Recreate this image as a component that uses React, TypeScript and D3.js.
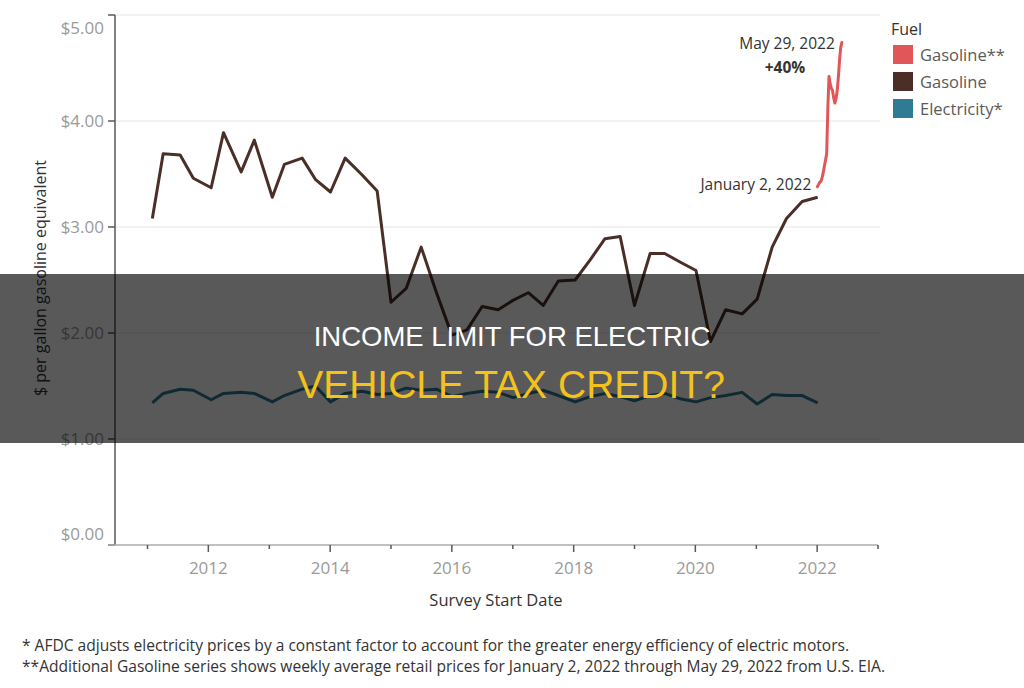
import { scaleLinear, scaleTime, line, timeParse, timeYear } from 'd3'

const parseDay = timeParse('%Y-%m-%d')

// quarterly survey dates (AFDC Clean Cities price report)
const surveyDates = [
  '2011-01-30', '2011-04-05', '2011-07-16', '2011-10-03',
  '2012-01-18', '2012-04-01', '2012-07-16', '2012-10-03',
  '2013-01-19', '2013-04-01', '2013-07-17', '2013-10-04',
  '2014-01-03', '2014-04-01', '2014-07-12', '2014-10-10',
  '2015-01-01', '2015-04-02', '2015-07-01', '2015-10-01',
  '2016-01-01', '2016-04-01', '2016-07-01', '2016-10-05',
  '2017-01-04', '2017-04-04', '2017-07-02', '2017-10-01',
  '2018-01-10', '2018-04-10', '2018-07-08', '2018-10-07',
  '2019-01-01', '2019-04-05', '2019-07-01', '2019-10-01',
  '2020-01-05', '2020-04-01', '2020-07-01', '2020-10-08',
  '2021-01-06', '2021-04-06', '2021-07-01', '2021-10-03',
  '2022-01-04',
]

const gasolinePrices = [
  3.08, 3.69, 3.68, 3.46,
  3.37, 3.89, 3.52, 3.82,
  3.28, 3.59, 3.65, 3.45,
  3.33, 3.65, 3.49, 3.34,
  2.29, 2.42, 2.81, 2.38,
  1.98, 2.03, 2.25, 2.22,
  2.31, 2.38, 2.26, 2.49,
  2.50, 2.69, 2.89, 2.91,
  2.26, 2.75, 2.75, 2.67,
  2.59, 1.92, 2.22, 2.18,
  2.32, 2.81, 3.08, 3.24,
  3.28,
]

const electricityPrices = [
  1.34, 1.43, 1.47, 1.46,
  1.37, 1.43, 1.44, 1.43,
  1.35, 1.41, 1.47, 1.50,
  1.35, 1.43, 1.45, 1.42,
  1.43, 1.48, 1.46, 1.47,
  1.40, 1.43, 1.45, 1.44,
  1.39, 1.43, 1.46, 1.41,
  1.35, 1.40, 1.43, 1.40,
  1.36, 1.41, 1.43, 1.38,
  1.35, 1.39, 1.41, 1.44,
  1.33, 1.42, 1.41, 1.41,
  1.34,
]

// weekly EIA retail prices, Jan 2 - May 29 2022
const weeklyDates = [
  '2022-01-02', '2022-01-09', '2022-01-16', '2022-01-23', '2022-01-30',
  '2022-02-06', '2022-02-13', '2022-02-20', '2022-02-27',
  '2022-03-06', '2022-03-13', '2022-03-20', '2022-03-27',
  '2022-04-03', '2022-04-10', '2022-04-17', '2022-04-24',
  '2022-05-01', '2022-05-08', '2022-05-15', '2022-05-22', '2022-05-29',
]

const weeklyGasoline = [
  3.38, 3.40, 3.42, 3.43, 3.46,
  3.51, 3.57, 3.63, 3.69,
  4.12, 4.42, 4.35, 4.31,
  4.29, 4.22, 4.17, 4.21,
  4.28, 4.41, 4.57, 4.69, 4.74,
]

const priceTicks = [0, 1, 2, 3, 4, 5]
const legendLabels = ['Gasoline**', 'Gasoline', 'Electricity*']
const legendColors = ['#e15759', '#4b2e27', '#2f7a94']

const footnotes = [
  '* AFDC adjusts electricity prices by a constant factor to account for the greater energy efficiency of electric motors.',
  '**Additional Gasoline series shows weekly average retail prices for January 2, 2022 through May 29, 2022 from U.S. EIA.',
]

const font = "'Open Sans', 'Noto Sans', sans-serif"

interface Point {
  date: Date
  value: number
}

const toSeries = (dates: string[], values: number[]): Point[] =>
  dates.map((d, i) => ({ date: parseDay(d) as Date, value: values[i] }))

const gasoline = toSeries(surveyDates, gasolinePrices)
const electricity = toSeries(surveyDates, electricityPrices)
const weekly = toSeries(weeklyDates, weeklyGasoline)

const App = () => {
  const width = 1024
  const height = 688

  const plot = { left: 115, right: 878, top: 15, bottom: 545 }

  const xScale = scaleTime()
    .domain([new Date(2010, 5, 20), new Date(2023, 0, 1)])
    .range([plot.left, plot.right])
  const yScale = scaleLinear().domain([0, 5]).range([plot.bottom, plot.top])

  const lineGenerator = line<Point>()
    .x(d => xScale(d.date))
    .y(d => yScale(d.value))

  const years = timeYear.range(new Date(2011, 0, 1), new Date(2023, 0, 2))

  const first = weekly[0]
  const last = weekly[weekly.length - 1]
  const change = Math.round((last.value / first.value - 1) * 100)

  return (
    <svg width={width} height={height} style={{ position: 'absolute', left: 0, top: 0, background: '#fff' }}>
      {/* gridlines */}
      {priceTicks.filter(t => t > 0).map(t => (
        <line key={t} x1={plot.left} x2={plot.right + 2} y1={yScale(t)} y2={yScale(t)} stroke="#eeeeee" strokeWidth={1.5}/>
      ))}

      {/* y axis */}
      <line x1={plot.left} x2={plot.left} y1={plot.top} y2={plot.bottom} stroke="#595959" strokeWidth={1.5}/>
      {priceTicks.map(t => {
        const ty = Math.min(Math.max(yScale(t), plot.top + 13.5), plot.bottom - 11)
        return (
          <g key={t}>
            <line x1={plot.left - 7} x2={plot.left} y1={yScale(t)} y2={yScale(t)} stroke="#595959" strokeWidth={1.5}/>
            <text x={104} y={ty} dy="0.35em" textAnchor="end" fontFamily={font} fontSize={17} fill="#9a9a9a">
              ${t.toFixed(2)}
            </text>
          </g>
        )
      })}
      <text transform={`translate(46, ${278}) rotate(-90)`} textAnchor="middle" fontFamily={font} fontSize={16} fill="#333">
        $ per gallon gasoline equivalent
      </text>

      {/* x axis */}
      <line x1={plot.left - 7} x2={plot.right} y1={plot.bottom} y2={plot.bottom} stroke="#ababab" strokeWidth={1.5}/>
      {years.map(d => {
        const major = d.getFullYear() % 2 === 0
        const tx = xScale(d)
        return (
          <g key={d.getFullYear()}>
            <line x1={tx} x2={tx} y1={plot.bottom} y2={plot.bottom + (major ? 7 : 4)} stroke="#595959" strokeWidth={1.5}/>
            {major && d.getFullYear() < 2023 && (
              <text x={tx} y={574} textAnchor="middle" fontFamily={font} fontSize={17} fill="#9a9a9a">
                {d.getFullYear()}
              </text>
            )}
          </g>
        )
      })}
      <text x={496} y={606} textAnchor="middle" fontFamily={font} fontSize={16.5} fill="#333">
        Survey Start Date
      </text>

      {/* series */}
      <path d={lineGenerator(electricity) || ''} fill="none" stroke={legendColors[2]} strokeWidth={3} strokeLinejoin="round"/>
      <path d={lineGenerator(gasoline) || ''} fill="none" stroke={legendColors[1]} strokeWidth={3} strokeLinejoin="round"/>
      <path d={lineGenerator(weekly) || ''} fill="none" stroke={legendColors[0]} strokeWidth={3} strokeLinejoin="round" strokeLinecap="round"/>

      {/* annotations */}
      <text x={xScale(first.date) - 6} y={yScale(first.value) + 3} textAnchor="end" fontFamily={font} fontSize={15.5} fill="#333">
        January 2, 2022
      </text>
      <text x={xScale(last.date) - 7} y={49} textAnchor="end" fontFamily={font} fontSize={15.5} fill="#333">
        May 29, 2022
      </text>
      <text x={785} y={73} textAnchor="middle" fontFamily={font} fontSize={15.5} fontWeight="bold" fill="#333">
        +{change}%
      </text>

      {/* legend */}
      <text x={891} y={35} fontFamily={font} fontSize={16} fill="#333">Fuel</text>
      {legendLabels.map((label, i) => (
        <g key={label} transform={`translate(893, ${45 + i * 27})`}>
          <rect width={20} height={19} fill={legendColors[i]}/>
          <text x={27} y={15.5} fontFamily={font} fontSize={16.5} fill="#5a5a5a">{label}</text>
        </g>
      ))}

      {/* footnotes */}
      {footnotes.map((note, i) => (
        <text key={i} x={22} y={651 + i * 21} fontFamily={font} fontSize={16} fill="#333"
          textLength={i === 0 ? 827 : 863} lengthAdjust="spacingAndGlyphs">
          {note}
        </text>
      ))}

      {/* title banner */}
      <rect x={0} y={274} width={width} height={169} fill="#000" fillOpacity={0.65}/>
      <text x={512} y={346} textAnchor="middle" fontFamily="'Liberation Sans', Arial, sans-serif" fontSize={27.5} fill="#ffffff">
        INCOME LIMIT FOR ELECTRIC
      </text>
      <text x={511} y={398} textAnchor="middle" fontFamily="'Liberation Sans', Arial, sans-serif" fontSize={39} fill="#f4c21b">
        VEHICLE TAX CREDIT?
      </text>
    </svg>
  )
}

export default App
